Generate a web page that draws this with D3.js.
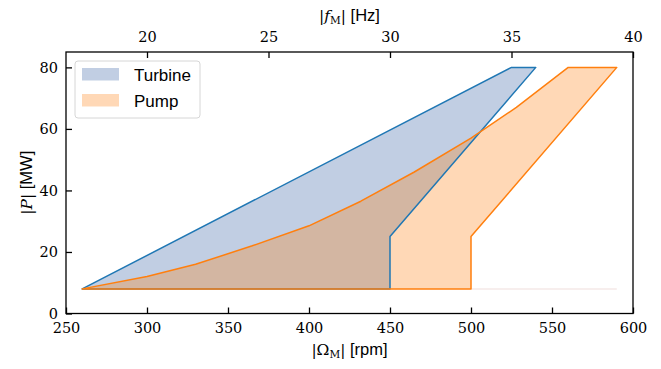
<!DOCTYPE html>
<html>
<head>
<meta charset="utf-8">
<script src="https://cdn.jsdelivr.net/npm/d3@7"></script>
</head>
<body style="margin:0;background:#fff">
<div id="chart"></div>
<script>
// operating ranges, speed in rpm and power in MW
const turbineRpm = [260, 525, 540, 450, 450];
const turbineP   = [8, 80, 80, 25, 8];
const pumpRpm = [260, 300, 330, 365, 400, 432, 465, 500, 528, 560, 590, 500, 500];
const pumpP   = [8, 12, 16, 22, 28.5, 36.5, 46, 57, 67, 80, 80, 25, 8];
// faint bottom edge left over past the pump polygon
const tailRpm = [500, 590];
const tailP = [8, 8];

const xTicks = [250, 300, 350, 400, 450, 500, 550, 600];
const yTicks = [0, 20, 40, 60, 80];
const fTicks = [20, 25, 30, 35, 40];
const legendNames = ["Turbine", "Pump"];

const SERIF = "'DejaVu Serif', serif";
const SANS = "'Liberation Sans', Arial, sans-serif";

const width = 661, height = 369;
const margin = {top: 52, right: 28, bottom: 55.5, left: 66};

const svg = d3.select("#chart").append("svg")
  .attr("width", width)
  .attr("height", height);

const x = d3.scaleLinear().domain([250, 600]).range([margin.left, width - margin.right]);
const y = d3.scaleLinear().domain([0, 85]).range([height - margin.bottom, margin.top]);
const xf = d3.scaleLinear().domain([250 / 15, 40]).range(x.range());

const line = d3.line().x(d => x(d[0])).y(d => y(d[1]));
const turbine = turbineRpm.map((r, i) => [r, turbineP[i]]);
const pump = pumpRpm.map((r, i) => [r, pumpP[i]]);
const tail = tailRpm.map((r, i) => [r, tailP[i]]);

// fills
svg.append("path").attr("d", line(turbine) + "Z")
  .attr("fill", "#4c72b0").attr("fill-opacity", 0.35);
svg.append("path").attr("d", line(pump) + "Z")
  .attr("fill", "#ff7f0e").attr("fill-opacity", 0.3);

svg.append("path").attr("d", line(tail))
  .attr("fill", "none").attr("stroke", "#f5e9e7").attr("stroke-width", 1.5);

// outlines
svg.append("path").attr("d", line(turbine) + "Z")
  .attr("fill", "none").attr("stroke", "#1f77b4").attr("stroke-width", 1.5)
  .attr("stroke-linejoin", "round");
svg.append("path").attr("d", line(pump) + "Z")
  .attr("fill", "none").attr("stroke", "#ff7f0e").attr("stroke-width", 1.5)
  .attr("stroke-linejoin", "round");

// axes, ticks point inward
const gx = svg.append("g")
  .attr("transform", "translate(0," + (height - margin.bottom) + ")")
  .call(d3.axisBottom(x).tickValues(xTicks).tickSize(-6).tickPadding(9).tickFormat(d3.format("d")));
const gy = svg.append("g")
  .attr("transform", "translate(" + margin.left + ",0)")
  .call(d3.axisLeft(y).tickValues(yTicks).tickSize(-6).tickPadding(8).tickFormat(d3.format("d")));
const gt = svg.append("g")
  .attr("transform", "translate(0," + margin.top + ")")
  .call(d3.axisTop(xf).tickValues(fTicks).tickSize(-6).tickPadding(10).tickFormat(d3.format("d")));

[gx, gy, gt].forEach(g => {
  g.attr("font-family", SERIF).attr("font-size", 14.5);
  g.select(".domain").remove();
  g.selectAll(".tick line").attr("stroke", "#000").attr("stroke-width", 1.3);
  g.selectAll(".tick text").attr("fill", "#000")
    .style("font-family", SERIF).style("font-size", "14.5px");
});

svg.append("rect")
  .attr("x", margin.left).attr("y", margin.top)
  .attr("width", width - margin.left - margin.right)
  .attr("height", height - margin.top - margin.bottom)
  .attr("fill", "none").attr("stroke", "#000").attr("stroke-width", 1.3);

// axis labels
const cx = (x.range()[0] + x.range()[1]) / 2;

function part(t, text, font, size, extra) {
  const s = t.append("tspan").style("font-family", font).style("font-size", size + "px").text(text);
  if (extra) extra(s);
  return s;
}

const xl = svg.append("text").attr("x", cx).attr("y", 355).attr("text-anchor", "middle");
part(xl, "|Ω", SERIF, 15.5);
part(xl, "M", SERIF, 10.5, s => s.attr("dy", 3));
part(xl, "|", SERIF, 15.5, s => s.attr("dy", -3));
part(xl, " [rpm]", SANS, 16.5);

const tl = svg.append("text").attr("x", cx).attr("y", 21).attr("text-anchor", "middle");
part(tl, "|", SERIF, 15.5);
part(tl, "f", SERIF, 15.5, s => s.style("font-style", "italic"));
part(tl, "M", SERIF, 10.5, s => s.attr("dy", 3));
part(tl, "|", SERIF, 15.5, s => s.attr("dy", -3));
part(tl, " [Hz]", SANS, 16.5);

const yl = svg.append("text")
  .attr("transform", "translate(32," + ((y.range()[0] + y.range()[1]) / 2) + ") rotate(-90)")
  .attr("text-anchor", "middle");
part(yl, "|", SERIF, 15.5);
part(yl, "P", SERIF, 15.5, s => s.style("font-style", "italic"));
part(yl, "|", SERIF, 15.5);
part(yl, " [MW]", SANS, 16.5);

// legend
const legend = svg.append("g").attr("transform", "translate(75,61)");
legend.append("rect")
  .attr("width", 125).attr("height", 57).attr("rx", 3)
  .attr("fill", "#fff").attr("fill-opacity", 0.8)
  .attr("stroke", "#d6d6d6").attr("stroke-width", 1);
const legendFill = [["#4c72b0", 0.35], ["#ff7f0e", 0.3]];
legendNames.forEach((name, i) => {
  const row = legend.append("g").attr("transform", "translate(0," + (i * 26) + ")");
  row.append("rect").attr("x", 7).attr("y", 7).attr("width", 37).attr("height", 12.5)
    .attr("fill", legendFill[i][0]).attr("fill-opacity", legendFill[i][1]);
  row.append("text").attr("x", 59).attr("y", 20)
    .style("font-family", SANS).style("font-size", "17px")
    .attr("fill", "#000").text(name);
});
</script>
</body>
</html>
